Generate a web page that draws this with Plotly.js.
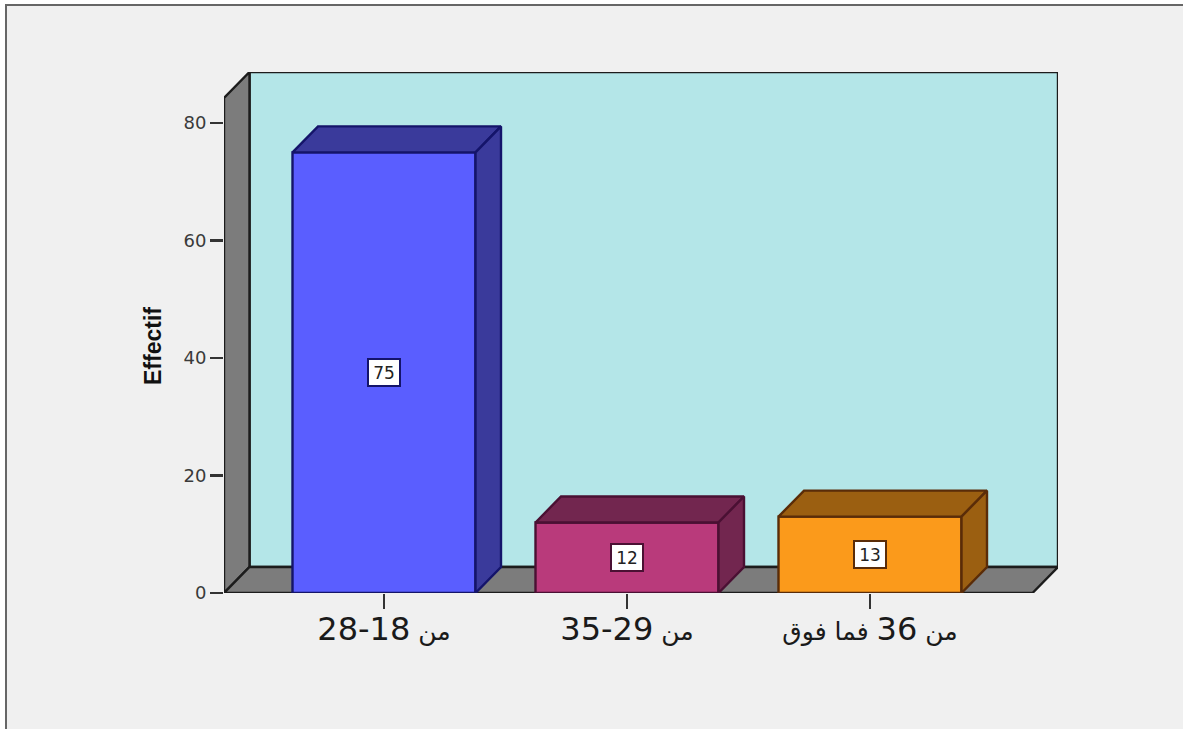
<!DOCTYPE html>
<html><head><meta charset="utf-8">
<script src="https://cdn.plot.ly/plotly-3.0.1.min.js"></script>
<style>html,body{margin:0;padding:0;background:#fff}#c{width:1183px;height:729px}</style>
</head><body><div id="c"></div>
<script>
const categories = ["من 18-28", "من 29-35", "من 36 فما فوق"];
const counts = [75, 12, 13];
const yTicks = [0, 20, 40, 60, 80];
const yAxisLabel = "Effectif";
const frontColors = ["#5a5eff", "#b93a7b", "#fb9a1b"];
const shadeColors = ["#3a3a9b", "#72264f", "#9b5f11"];
const edgeColors = ["#14146a", "#4a1033", "#5a2c08"];

const W = 1183, H = 729, L = 224, R = 1058, T = 72, B = 593;
const pxX = 243, pxY = 5.875;          // pixels per category / per count
const depthX = 25.5 / pxX, depthY = 26 / pxY, barW = 183 / pxX;
const xMin = -(384 - L) / pxX, xMax = xMin + (R - L) / pxX;
const yMax = (B - T) / pxY;
const wallTop = yMax - depthY, floorRight = xMax - depthX;

const poly = (pts) => 'M' + pts.map(p => p.join(',')).join('L') + 'Z';
const wall = (pts, fill) => ({type:'path', xref:'x', yref:'y', layer:'below', path:poly(pts), fillcolor:fill, line:{color:'#1c1c1c', width:2.4}});
const tickText = categories.map(c => c.replace(/[\d-]+/, m => '<span style="font-size:32px">' + m + '</span>'));

const traces = [{
  type:'bar', x:[0,1,2], y:counts, width:barW,
  marker:{color:frontColors, line:{color:edgeColors, width:2.4}}, hoverinfo:'x+y'
}];
counts.forEach((v,i) => {
  const a = i - barW/2, b = i + barW/2;
  const faces = [
    [[a,b,b+depthX,a+depthX,a],[v,v,v+depthY,v+depthY,v]],
    [[b,b+depthX,b+depthX,b,b],[0,depthY,v+depthY,v,0]]
  ];
  faces.forEach(f => traces.push({
    type:'scatter', mode:'lines', x:f[0], y:f[1], fill:'toself',
    fillcolor:shadeColors[i], line:{color:edgeColors[i], width:2.4}, hoverinfo:'skip'
  }));
});

const layout = {
  width:W, height:H, showlegend:false, barmode:'overlay',
  paper_bgcolor:'#ffffff', plot_bgcolor:'rgba(0,0,0,0)',
  margin:{l:L, r:W-R, t:T, b:H-B, pad:0},
  font:{family:'"DejaVu Sans",sans-serif', color:'#222'},
  xaxis:{range:[xMin,xMax], tickmode:'array', tickvals:[0,1,2], ticktext:tickText,
    ticks:'outside', ticklen:15, tickwidth:2.4, tickcolor:'#333', ticklabelstandoff:1,
    tickfont:{size:25, color:'#1a1a1a'}, showgrid:false, zeroline:false, showline:false, fixedrange:true},
  yaxis:{range:[0,yMax], tickmode:'array', tickvals:yTicks,
    ticks:'outside', ticklen:13, tickwidth:2.4, tickcolor:'#333',
    tickfont:{size:18, color:'#3a3a3a'}, showgrid:false, zeroline:false, showline:false, fixedrange:true},
  shapes:[
    {type:'rect', xref:'paper', yref:'paper', layer:'below',
     x0:(6-L)/(R-L), x1:(W+10-L)/(R-L), y0:(B-H-10)/(B-T), y1:(B-5)/(B-T),
     fillcolor:'#f0f0f0', line:{color:'#666', width:2}},
    wall([[xMin+depthX,0+depthY],[xMax,depthY],[xMax,yMax],[xMin+depthX,yMax]], '#b4e6e8'),
    wall([[xMin,0],[xMin+depthX,depthY],[xMin+depthX,yMax],[xMin,wallTop]], '#7c7c7c'),
    wall([[xMin,0],[xMin+depthX,depthY],[xMax,depthY],[floorRight,0]], '#7c7c7c')
  ],
  annotations: counts.map((v,i) => ({
    x:i, y:v/2, xref:'x', yref:'y', text:String(v), showarrow:false,
    font:{size:17, color:'#222'}, bgcolor:'#ffffff', bordercolor:edgeColors[i], borderwidth:2,
    borderpad:3, width:24, height:19
  })).concat([{
    xref:'paper', yref:'paper', x:(153-L)/(R-L), y:(B-346)/(B-T), xanchor:'center', yanchor:'middle',
    text:'<b>'+yAxisLabel+'</b>', textangle:-90, showarrow:false,
    font:{family:'"Liberation Sans",sans-serif', size:23, color:'#111'}
  }])
};
Plotly.newPlot('c', traces, layout, {displayModeBar:false, staticPlot:true});
</script></body></html>
